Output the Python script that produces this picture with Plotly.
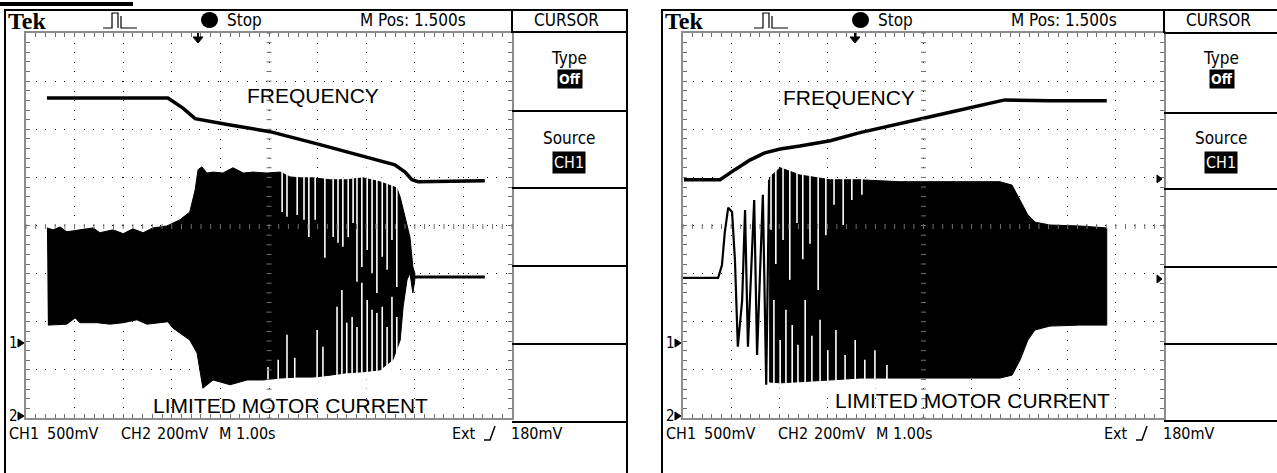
import plotly.graph_objects as go

W, H = 1277, 473

# ---------------- data (x in divisions of 1.00 s, y in divisions) ----------------
# Left capture
L_freq_t = [0.43, 2.92, 3.23, 3.48, 4.20, 5.02, 6.05, 6.93, 7.59, 7.80, 7.94, 8.07, 9.44]
L_freq_v = [6.65, 6.65, 6.44, 6.22, 6.09, 5.95, 5.68, 5.43, 5.26, 5.11, 4.95, 4.91, 4.93]

L_hi_t = [0.43, 0.56, 0.70, 0.84, 1.11, 1.38, 1.52, 1.79, 2.00, 2.20, 2.41, 2.61, 2.90, 3.17,
          3.37, 3.48, 3.54, 3.62, 3.72, 3.85, 4.05, 4.26, 4.47, 4.67, 4.96, 5.23, 5.43, 5.64,
          5.91, 6.26, 6.60, 6.93, 7.28, 7.49, 7.63, 7.70, 7.76, 7.84, 7.90, 7.96, 8.00]
L_hi_v = [3.95, 3.91, 3.97, 3.87, 3.91, 3.95, 3.85, 3.91, 3.83, 3.93, 3.85, 3.95, 3.99, 4.12,
          4.28, 4.74, 5.16, 5.22, 5.09, 5.11, 5.09, 5.20, 5.09, 5.11, 5.09, 5.11, 5.01, 4.99,
          4.99, 4.95, 4.95, 4.99, 4.91, 4.84, 4.78, 4.59, 4.32, 3.97, 3.76, 3.14, 3.01]
L_lo_t = [0.45, 0.84, 1.01, 1.11, 1.46, 1.73, 2.00, 2.28, 2.49, 2.76, 2.92, 3.02, 3.21, 3.37,
          3.52, 3.64, 3.85, 4.20, 4.55, 4.88, 5.23, 5.58, 5.91, 6.26, 6.60, 6.93, 7.28, 7.55,
          7.70, 7.76, 7.84, 7.90, 7.96, 8.00]
L_lo_v = [1.93, 1.95, 2.08, 1.98, 1.98, 1.95, 1.98, 2.04, 1.95, 1.98, 2.00, 1.87, 1.73, 1.62,
          1.35, 0.62, 0.79, 0.69, 0.79, 0.79, 0.83, 0.85, 0.85, 0.89, 0.94, 0.96, 1.00, 1.21,
          1.62, 2.31, 2.87, 3.01, 2.60, 2.87]
L_tail_t = [8.00, 9.44]
L_tail_v = [2.93, 2.93]

L_gap_hi_t = [5.27, 5.37, 5.58, 5.72, 5.82, 5.95, 6.15, 6.32, 6.42, 6.52, 6.63, 6.73, 6.81, 6.91,
              7.02, 7.12, 7.22, 7.33, 7.43, 7.53, 7.63]
L_gap_hi_v = [4.28, 4.18, 4.22, 4.12, 3.76, 4.12, 3.33, 3.76, 3.64, 3.56, 3.76, 4.05, 2.83, 3.14,
              3.49, 3.01, 2.60, 3.35, 3.08, 3.70, 2.72]
L_gap_lo_t = [4.98, 5.19, 5.37, 5.53, 5.99, 6.11, 6.40, 6.50, 6.60, 6.71, 6.81, 6.91, 7.02, 7.12,
              7.22, 7.33, 7.43, 7.53, 7.63]
L_gap_lo_v = [1.06, 1.21, 1.73, 1.25, 1.83, 1.48, 2.31, 2.66, 1.98, 2.10, 1.89, 2.81, 2.45, 2.25,
              2.18, 2.31, 1.89, 2.52, 2.10]

# Right capture
R_freq_t = [0.02, 0.77, 1.08, 1.39, 1.70, 2.02, 2.43, 3.06, 3.68, 4.51, 5.14, 5.76, 6.28, 6.69, 7.63, 8.81]
R_freq_v = [4.95, 4.95, 5.16, 5.36, 5.51, 5.59, 5.65, 5.76, 5.93, 6.11, 6.26, 6.40, 6.51, 6.61, 6.59, 6.59]

R_pre_t = [0.00, 0.73, 0.81, 0.87, 0.94, 1.02, 1.08, 1.14, 1.23, 1.29, 1.35, 1.41, 1.48, 1.54,
           1.60, 1.66, 1.73, 1.79]
R_pre_v = [2.91, 2.91, 3.18, 3.87, 4.37, 4.28, 3.28, 1.48, 2.45, 4.32, 1.48, 2.97, 4.53, 1.31,
           2.87, 4.64, 0.69, 4.95]

R_hi_t = [1.79, 2.02, 2.43, 3.06, 3.68, 4.51, 5.55, 6.59, 6.84, 7.01, 7.17, 7.32, 7.63, 8.25, 8.81]
R_hi_v = [4.99, 5.20, 5.05, 4.95, 4.95, 4.91, 4.91, 4.91, 4.84, 4.53, 4.22, 4.07, 4.01, 3.99, 3.95]
R_lo_t = [1.79, 2.02, 2.43, 3.06, 3.68, 4.51, 5.55, 6.59, 6.84, 7.01, 7.17, 7.32, 7.63, 8.25, 8.81]
R_lo_v = [0.75, 0.73, 0.75, 0.79, 0.83, 0.83, 0.83, 0.83, 0.89, 1.21, 1.62, 1.83, 1.91, 1.93, 1.93]

R_gap_hi_t = [1.83, 1.93, 2.08, 2.22, 2.37, 2.49, 2.64, 2.81, 2.97, 3.14, 3.33, 3.51, 3.72]
R_gap_hi_v = [3.91, 3.20, 3.70, 2.87, 4.05, 3.30, 3.62, 2.66, 3.80, 4.43, 4.01, 4.53, 4.64]
R_gap_lo_t = [1.89, 2.02, 2.14, 2.27, 2.39, 2.54, 2.68, 2.85, 3.01, 3.18, 3.37, 3.58, 3.78,
              3.99, 4.24]
R_gap_lo_v = [2.45, 1.62, 2.25, 1.93, 1.52, 2.45, 1.71, 2.04, 1.41, 1.83, 1.31, 1.62, 1.21,
              1.41, 1.10]

# ---------------- helpers ----------------
def px(x):
    return x / W

def py(y):
    return 1 - y / H

SCOPE_FONT = "DejaVu Sans Condensed, DejaVu Sans, sans-serif"
LABEL_FONT = "Liberation Sans, Arial, sans-serif"

fig = go.Figure()

def envelope(ht, hv, lt, lv, xa, ya):
    fig.add_trace(go.Scatter(x=ht + lt[::-1], y=hv + lv[::-1], mode="lines", fill="toself",
                             fillcolor="black", line=dict(color="black", width=1),
                             xaxis=xa, yaxis=ya, hoverinfo="skip", showlegend=False))

def gaps(t_hi, v_hi, t_lo, v_lo, xa, ya):
    xs, ys = [], []
    for t, v in zip(t_hi, v_hi):
        xs += [t, t, None]
        ys += [v, 5.28, None]
    for t, v in zip(t_lo, v_lo):
        xs += [t, t, None]
        ys += [v, 0.55, None]
    fig.add_trace(go.Scatter(x=xs, y=ys, mode="lines", line=dict(color="white", width=1.6),
                             xaxis=xa, yaxis=ya, hoverinfo="skip", showlegend=False))

def line(t, v, xa, ya, w=3):
    fig.add_trace(go.Scatter(x=t, y=v, mode="lines", line=dict(color="black", width=w),
                             xaxis=xa, yaxis=ya, hoverinfo="skip", showlegend=False))

# left
envelope(L_hi_t, L_hi_v, L_lo_t, L_lo_v, "x", "y")
gaps(L_gap_hi_t, L_gap_hi_v, L_gap_lo_t, L_gap_lo_v, "x", "y")
line(L_tail_t, L_tail_v, "x", "y")
line(L_freq_t, L_freq_v, "x", "y", w=3.5)
# right
line(R_pre_t, R_pre_v, "x2", "y2", w=2.2)
envelope(R_hi_t, R_hi_v, R_lo_t, R_lo_v, "x2", "y2")
gaps(R_gap_hi_t, R_gap_hi_v, R_gap_lo_t, R_gap_lo_v, "x2", "y2")
line(R_freq_t, R_freq_v, "x2", "y2", w=3.5)

def ax(domain, rng):
    return dict(domain=domain, range=rng, showgrid=True, gridcolor="black", gridwidth=1,
                griddash="1px,8.6px", dtick=1, tick0=0, showline=True, linecolor="#8c8c8c",
                linewidth=2, mirror="ticks", ticks="inside", ticklen=4, tickcolor="#707070",
                tickwidth=1, minor=dict(dtick=0.2, ticks="inside", ticklen=4, tickcolor="#707070",
                                        showgrid=False),
                showticklabels=False, zeroline=False, fixedrange=True)

ydom = [py(418), py(33)]
fig.update_layout(
    width=W, height=H, margin=dict(l=0, r=0, t=0, b=0),
    paper_bgcolor="white", plot_bgcolor="white", showlegend=False,
    xaxis=ax([px(26), px(512)], [0, 10]), yaxis=ax(ydom, [0, 8]),
    xaxis2=ax([px(683), px(1164)], [0, 10]), yaxis2=dict(ax(ydom, [0, 8]), anchor="x2"),
)
fig.layout.yaxis.anchor = "x"
fig.layout.xaxis2.anchor = "y2"

shapes = []
def seg(x0, y0, x1, y1, w=2, color="black"):
    shapes.append(dict(type="line", xref="paper", yref="paper", x0=px(x0), y0=py(y0),
                       x1=px(x1), y1=py(y1), line=dict(color=color, width=w), layer="above"))

def path(pts, fill=None, w=1.5, close=False):
    d = "M " + " L ".join(f"{px(a):.5f},{py(b):.5f}" for a, b in pts)
    if close:
        d += " Z"
    shapes.append(dict(type="path", xref="paper", yref="paper", path=d,
                       fillcolor=fill if fill else "rgba(0,0,0,0)",
                       line=dict(color="black", width=w), layer="above"))

annotations = []
def txt(x, y, s, size=16, font=SCOPE_FONT, anchor="left", color="black", bg=None):
    annotations.append(dict(x=px(x), y=py(y), xref="paper", yref="paper", text=s, showarrow=False,
                            xanchor=anchor, yanchor="middle",
                            font=dict(family=font, size=size, color=color),
                            bgcolor=bg, borderpad=1))

# top underline of cut-off heading
shapes.append(dict(type="rect", xref="paper", yref="paper", x0=px(0), x1=px(133), y0=py(6), y1=py(2),
                   fillcolor="black", line=dict(width=0), layer="above"))

def scope(fx0, fx1, gx0, gx1, menu_y, dx, trig_x):
    # frame
    seg(fx0, 10, fx1, 10)
    seg(fx0, 9, fx0, 473)
    if fx1 < W:
        seg(fx1, 9, fx1, 473)
    seg(gx1, 10, gx1, 33)
    for yy in menu_y:
        seg(gx1, yy, min(fx1, W), yy)
    # header
    txt(fx0 + 1, 21, "<b>Tek</b>", size=24, font="Liberation Serif, Times New Roman, serif")
    b = fx0 + dx
    path([(b + 88, 28), (b + 97, 28), (b + 97, 13), (b + 103, 13), (b + 103, 28)], w=1.2)
    path([(b + 106, 16), (b + 106, 28), (b + 122, 28)], w=1.2)
    shapes.append(dict(type="circle", xref="paper", yref="paper", x0=px(b + 186), x1=px(b + 203),
                       y0=py(28), y1=py(12), fillcolor="black", line=dict(width=0), layer="above"))
    txt(b + 210, 20, "Stop", size=17)
    txt(b + 398, 20, "M Pos: 1.500s", size=17, anchor="center")
    txt(gx1 + 54, 20, "CURSOR", size=17, anchor="center")
    # menu
    txt(gx1 + 57, 58, "Type", size=17, anchor="center")
    txt(gx1 + 58, 79, "<b>Off</b>", size=14, anchor="center", color="white", bg="black")
    txt(gx1 + 57, 138, "Source", size=17, anchor="center")
    txt(gx1 + 57, 162, "CH1", size=16, anchor="center", color="white", bg="black")
    # trigger position arrow
    seg(trig_x, 33, trig_x, 38, w=2)
    path([(trig_x - 5, 37), (trig_x + 5, 37), (trig_x, 43)], fill="black", w=1, close=True)
    # ground markers
    txt(gx0 - 19, 343, "1", size=15)
    path([(gx0 - 8, 339), (gx0 - 2, 343), (gx0 - 8, 347)], fill="black", w=1, close=True)
    txt(gx0 - 19, 416, "2", size=15)
    path([(gx0 - 8, 412), (gx0 - 2, 416), (gx0 - 8, 420)], fill="black", w=1, close=True)
    # status line
    txt(fx0 + 2, 433, "CH1", size=16)
    txt(fx0 + 40, 433, "500mV", size=16)
    txt(fx0 + 114, 433, "CH2", size=16)
    txt(fx0 + 150, 433, "200mV", size=16)
    txt(fx0 + 212, 433, "M 1.00s", size=16)
    txt(gx1 - 62, 433, "Ext", size=16)
    path([(gx1 - 28, 440), (gx1 - 22, 440), (gx1 - 17, 426)], w=1.5)
    txt(gx1 - 3, 433, "180mV", size=16)

scope(5, 627, 26, 512, [32, 111, 188, 266, 344, 422], 10, 198)
scope(662, 1279, 683, 1164, [33, 113, 189, 267, 344, 421], 4, 855)

# right-edge level markers on right scope
path([(1157, 175), (1162, 179), (1157, 183)], fill="black", w=1, close=True)
path([(1157, 275), (1162, 279), (1157, 283)], fill="black", w=1, close=True)

# centre crosshair ticks
for (x0, x1) in [(26, 512), (683, 1164)]:
    for i in range(51):
        xx = x0 + (x1 - x0) * i / 50
        seg(xx, 224, xx, 229, w=1, color="#707070")
    for i in range(41):
        yy = 33 + (418 - 33) * i / 40
        xm = (x0 + x1) / 2
        seg(xm - 2.5, yy, xm + 2.5, yy, w=1, color="#707070")

# labels
txt(313, 95, "FREQUENCY", size=21, font=LABEL_FONT, anchor="center")
txt(290, 405, "LIMITED MOTOR CURRENT", size=21, font=LABEL_FONT, anchor="center")
txt(849, 97, "FREQUENCY", size=21, font=LABEL_FONT, anchor="center")
txt(972, 400, "LIMITED MOTOR CURRENT", size=21, font=LABEL_FONT, anchor="center")

fig.update_layout(shapes=shapes, annotations=annotations)
fig.write_html("out.html", config={"displayModeBar": False},
               post_script="document.body.style.margin='0';document.body.style.overflow='hidden';")
